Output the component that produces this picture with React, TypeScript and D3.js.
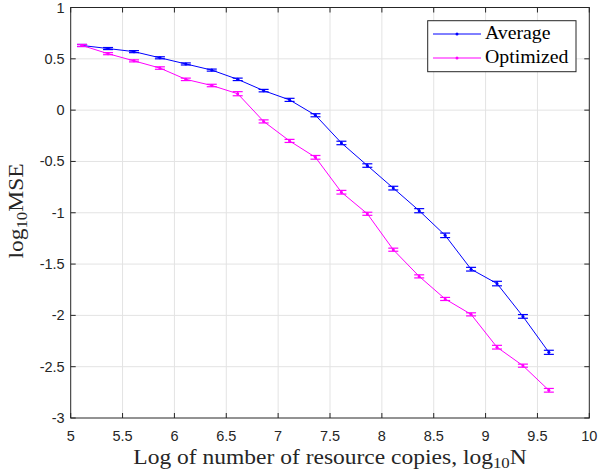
import React from "react";
import * as d3 from "d3";

const xVals = [5.11, 5.36, 5.61, 5.86, 6.11, 6.36, 6.61, 6.86, 7.11, 7.36, 7.61, 7.86, 8.11, 8.36, 8.61, 8.86, 9.11, 9.36, 9.61];
const average = [0.63, 0.60, 0.57, 0.51, 0.45, 0.39, 0.30, 0.19, 0.10, -0.05, -0.32, -0.54, -0.76, -0.98, -1.22, -1.55, -1.69, -2.01, -2.36];
const averageErr = [0.01, 0.01, 0.01, 0.01, 0.01, 0.01, 0.012, 0.012, 0.015, 0.015, 0.017, 0.017, 0.018, 0.02, 0.022, 0.018, 0.022, 0.018, 0.02];
const optimized = [0.63, 0.55, 0.48, 0.41, 0.30, 0.24, 0.16, -0.11, -0.30, -0.46, -0.80, -1.01, -1.36, -1.62, -1.84, -1.99, -2.31, -2.49, -2.73];
const optimizedErr = [0.01, 0.01, 0.01, 0.012, 0.012, 0.012, 0.02, 0.015, 0.015, 0.018, 0.018, 0.015, 0.015, 0.015, 0.015, 0.015, 0.018, 0.015, 0.018];
const xTicks = [5, 5.5, 6, 6.5, 7, 7.5, 8, 8.5, 9, 9.5, 10];
const yTicks = [1, 0.5, 0, -0.5, -1, -1.5, -2, -2.5, -3];
const seriesNames = ["Average", "Optimized"];
const seriesColors = ["#0000ff", "#ff00ff"];

const L = 70.7, R = 589.3, T = 7.5, B = 418;

export default function App() {
  const x = d3.scaleLinear().domain([5, 10]).range([L, R]);
  const y = d3.scaleLinear().domain([-3, 1]).range([B, T]);
  const line = d3.line<number>().x((_, i) => x(xVals[i])).y((d) => y(d));
  const series = [
    { vals: average, err: averageErr },
    { vals: optimized, err: optimizedErr },
  ];
  const tickFont = "Liberation Sans, Arial, sans-serif";
  const serif = "Liberation Serif, Times New Roman, serif";
  return (
    <svg width={598} height={473} style={{ position: "absolute", left: 0, top: 0, background: "#fff" }}>
      <rect x={0} y={0} width={598} height={473} fill="#fff" />
      {xTicks.slice(1, -1).map((t) => (
        <line key={"gx" + t} x1={x(t)} x2={x(t)} y1={T} y2={B} stroke="#e3e3e3" strokeWidth={1} />
      ))}
      {yTicks.slice(1, -1).map((t) => (
        <line key={"gy" + t} x1={L} x2={R} y1={y(t)} y2={y(t)} stroke="#e3e3e3" strokeWidth={1} />
      ))}
      {series.map((s, k) => (
        <g key={k}>
          <path d={line(s.vals) || ""} fill="none" stroke={seriesColors[k]} strokeWidth={1} />
          {s.vals.map((v, i) => {
            const cx = x(xVals[i]);
            const y1 = y(v + s.err[i]);
            const y2 = y(v - s.err[i]);
            return (
              <g key={i} stroke={seriesColors[k]} strokeWidth={1.2}>
                <line x1={cx} x2={cx} y1={y1} y2={y2} />
                <line x1={cx - 5} x2={cx + 5} y1={y1} y2={y1} />
                <line x1={cx - 5} x2={cx + 5} y1={y2} y2={y2} />
                <circle cx={cx} cy={y(v)} r={1.5} fill={seriesColors[k]} stroke="none" />
              </g>
            );
          })}
        </g>
      ))}
      <rect x={L} y={T} width={R - L} height={B - T} fill="none" stroke="#262626" strokeWidth={1} />
      {xTicks.map((t) => (
        <g key={"tx" + t}>
          <line x1={x(t)} x2={x(t)} y1={B} y2={B - 5} stroke="#262626" />
          <line x1={x(t)} x2={x(t)} y1={T} y2={T + 5} stroke="#262626" />
          <text x={x(t)} y={B + 22.5} textAnchor="middle" fontFamily={tickFont} fontSize={14.5} fill="#262626">
            {t}
          </text>
        </g>
      ))}
      {yTicks.map((t) => (
        <g key={"ty" + t}>
          <line x1={L} x2={L + 5} y1={y(t)} y2={y(t)} stroke="#262626" />
          <line x1={R} x2={R - 5} y1={y(t)} y2={y(t)} stroke="#262626" />
          <text x={L - 6} y={y(t) + 5} textAnchor="end" fontFamily={tickFont} fontSize={14.5} fill="#262626">
            {t}
          </text>
        </g>
      ))}
      <text transform="translate(330, 464) scale(1.12, 1)" textAnchor="middle" fontFamily={serif} fontSize={21} fill="#262626">
        Log of number of resource copies, log
        <tspan fontSize={15} dy={4}>10</tspan>
        <tspan dy={-4}>N</tspan>
      </text>
      <text transform={`translate(23, 211) rotate(-90) scale(1.12, 1)`} textAnchor="middle" fontFamily={serif} fontSize={21} fill="#262626">
        log
        <tspan fontSize={15} dy={4}>10</tspan>
        <tspan dy={-4}>MSE</tspan>
      </text>
      <rect x={427.7} y={20.7} width={148.3} height={51} fill="#fff" stroke="#262626" strokeWidth={1} />
      {seriesNames.map((n, k) => (
        <g key={n}>
          <line x1={433} x2={481} y1={34 + k * 24} y2={34 + k * 24} stroke={seriesColors[k]} strokeWidth={1} />
          <circle cx={457} cy={34 + k * 24} r={1.5} fill={seriesColors[k]} />
          <text transform={`translate(485, ${39 + k * 24}) scale(1.1, 1)`} fontFamily={serif} fontSize={18} fill="#000">
            {n}
          </text>
        </g>
      ))}
    </svg>
  );
}
